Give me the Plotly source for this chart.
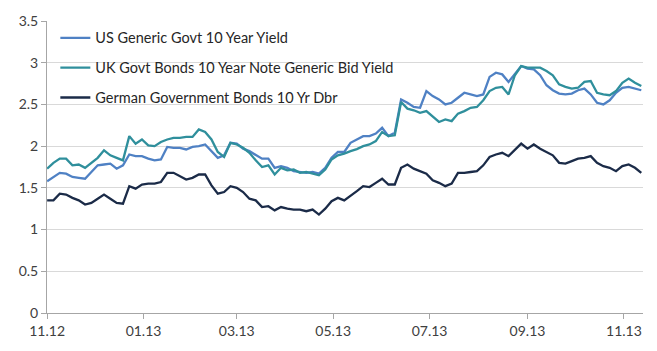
import pandas as pd
import plotly.graph_objects as go

dates = pd.date_range("2012-11-01", periods=95, freq="4D")

us_yield = [1.58, 1.63, 1.68, 1.67, 1.63, 1.62, 1.61, 1.69, 1.77, 1.78,
            1.79, 1.73, 1.77, 1.90, 1.88, 1.88, 1.85, 1.83, 1.84, 1.99,
            1.98, 1.98, 1.96, 1.99, 2.00, 2.02, 1.94, 1.86, 1.89, 2.04,
            2.03, 1.97, 1.94, 1.89, 1.85, 1.85, 1.74, 1.76, 1.74, 1.70,
            1.69, 1.68, 1.69, 1.67, 1.74, 1.86, 1.93, 1.93, 2.04, 2.08,
            2.12, 2.12, 2.15, 2.22, 2.12, 2.16, 2.56, 2.52, 2.47, 2.46,
            2.66, 2.60, 2.56, 2.50, 2.52, 2.58, 2.64, 2.62, 2.60, 2.62,
            2.83, 2.88, 2.86, 2.77, 2.86, 2.96, 2.93, 2.92, 2.85, 2.73,
            2.67, 2.63, 2.62, 2.63, 2.67, 2.69, 2.62, 2.52, 2.50, 2.55,
            2.64, 2.70, 2.71, 2.69, 2.67]

uk_yield = [1.73, 1.80, 1.85, 1.85, 1.77, 1.78, 1.74, 1.80, 1.86, 1.95,
            1.89, 1.86, 1.83, 2.12, 2.03, 2.08, 2.01, 2.00, 2.05, 2.08,
            2.10, 2.10, 2.11, 2.11, 2.20, 2.17, 2.08, 1.93, 1.87, 2.04,
            2.02, 1.98, 1.92, 1.83, 1.75, 1.77, 1.66, 1.74, 1.71, 1.72,
            1.68, 1.69, 1.67, 1.65, 1.72, 1.84, 1.89, 1.91, 1.94, 1.965,
            2.00, 2.02, 2.06, 2.17, 2.12, 2.13, 2.53, 2.45, 2.43, 2.40,
            2.42, 2.36, 2.29, 2.32, 2.30, 2.39, 2.42, 2.46, 2.47, 2.55,
            2.66, 2.70, 2.71, 2.62, 2.85, 2.96, 2.94, 2.94, 2.94, 2.90,
            2.85, 2.74, 2.71, 2.69, 2.70, 2.77, 2.78, 2.64, 2.62, 2.61,
            2.66, 2.76, 2.81, 2.76, 2.72]

de_yield = [1.35, 1.35, 1.43, 1.42, 1.38, 1.35, 1.30, 1.32, 1.37, 1.42,
            1.37, 1.32, 1.31, 1.52, 1.49, 1.54, 1.55, 1.55, 1.57, 1.68,
            1.68, 1.64, 1.60, 1.62, 1.66, 1.66, 1.53, 1.43, 1.45, 1.52,
            1.50, 1.45, 1.37, 1.35, 1.27, 1.28, 1.23, 1.27, 1.25, 1.24,
            1.24, 1.22, 1.24, 1.18, 1.25, 1.34, 1.38, 1.35, 1.40, 1.46,
            1.52, 1.51, 1.56, 1.61, 1.54, 1.54, 1.74, 1.78, 1.73, 1.70,
            1.67, 1.59, 1.56, 1.52, 1.55, 1.68, 1.68, 1.69, 1.70, 1.77,
            1.87, 1.90, 1.92, 1.88, 1.95, 2.03, 1.97, 2.02, 1.97, 1.93,
            1.89, 1.80, 1.79, 1.82, 1.85, 1.86, 1.88, 1.80, 1.76, 1.74,
            1.70, 1.76, 1.78, 1.74, 1.68]

series_names = ["US Generic Govt 10 Year Yield",
                "UK Govt Bonds 10 Year Note Generic Bid Yield",
                "German Government Bonds 10 Yr Dbr"]
series_values = [us_yield, uk_yield, de_yield]
series_colors = ["#4F81C4", "#2F8F9C", "#1B2B48"]

y_ticks = [0, 0.5, 1, 1.5, 2, 2.5, 3, 3.5]
y_labels = ["0", "0.5", "1", "1.5", "2", "2.5", "3", "3.5"]

fig = go.Figure()
for i, (name, vals, col) in enumerate(zip(series_names, series_values, series_colors)):
    fig.add_trace(go.Scatter(x=dates, y=vals, mode="lines", name=name,
                             legendgroup=f"g{i}",
                             line=dict(color=col, width=2.3)))

fig.update_layout(
    width=657, height=351,
    margin=dict(l=47, r=14, t=20, b=27),
    paper_bgcolor="white", plot_bgcolor="white",
    font=dict(family="Lato, Carlito, Calibri, sans-serif", size=14, color="#404040"),
    showlegend=True,
    legend=dict(x=0.014, y=0.997, xanchor="left", yanchor="top",
                bgcolor="rgba(0,0,0,0)", font=dict(size=14.5, color="#262626"),
                tracegroupgap=8, traceorder="grouped"),
)
fig.update_xaxes(
    type="date",
    range=["2012-10-31 22:00", "2013-11-13 02:00"],
    tick0="2012-11-01", dtick="M2", tickformat="%m.%y",
    showgrid=False, showline=True, linecolor="#A6A6A6", linewidth=1,
    ticks="outside", ticklen=5, tickcolor="#A6A6A6",
    tickfont=dict(size=14, color="#404040"),
)
fig.update_yaxes(
    range=[0, 3.5], tickvals=y_ticks, ticktext=y_labels,
    showgrid=True, gridcolor="#D9D9D9", gridwidth=1,
    showline=True, linecolor="#A6A6A6", linewidth=1,
    ticks="outside", ticklen=5, tickcolor="#A6A6A6",
    zeroline=False,
    tickfont=dict(size=14, color="#404040"),
)

fig.write_html("out.html")
